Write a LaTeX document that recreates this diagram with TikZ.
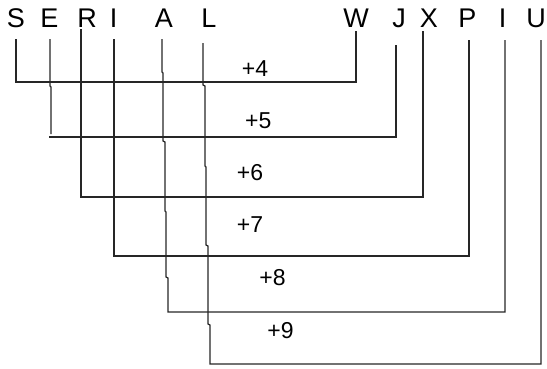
\documentclass[tikz,border=0pt]{standalone}
\usepackage{fontspec}
\setmainfont{Liberation Sans}
\begin{document}
\begin{tikzpicture}[x=1pt,y=-1pt,
  letter/.style={font=\fontsize{27}{27}\selectfont, anchor=base, inner sep=0pt},
  lbl/.style={font=\fontsize{23}{23}\selectfont, anchor=base, inner sep=0pt},
  wire/.style={line width=1.2pt, color=black!85, line join=miter}]
\useasboundingbox (0,0) rectangle (547,368);
% left word
\node[letter] (S) at (16,27.3) {S};
\node[letter] (E) at (49.3,27.3) {E};
\node[letter] (R) at (87,27.3) {R};
\node[letter] (I1) at (113.5,27.3) {I};
\node[letter] (A) at (164,27.3) {A};
\node[letter] (L) at (209,27.3) {L};
% right word
\node[letter] (W) at (356,27.3) {W};
\node[letter] (J) at (399,27.3) {J};
\node[letter] (X) at (429,27.3) {X};
\node[letter] (P) at (467.5,27.3) {P};
\node[letter] (I2) at (502.5,27.3) {I};
\node[letter] (U) at (536,27.3) {U};
% labels
\node[lbl] (l4) at (255,76.7) {+4};
\node[lbl] (l5) at (258.3,128.3) {+5};
\node[lbl] (l6) at (250,180) {+6};
\node[lbl] (l7) at (250,232.7) {+7};
\node[lbl] (l8) at (272.5,285) {+8};
\node[lbl] (l9) at (280.5,338.3) {+9};
% line ends
\coordinate (sS) at (16,39);  \coordinate (tW) at (356,31);
\coordinate (sE) at (50,39);  \coordinate (tJ) at (396,45);
\coordinate (sR) at (81,29);  \coordinate (tX) at (423,31);
\coordinate (sI) at (114,39); \coordinate (tP) at (469,40);
\coordinate (sA) at (162,39); \coordinate (tI) at (505,40);
\coordinate (sL) at (203,43); \coordinate (tU) at (541,40);
% connectors
\draw[wire] (sS) -- (16,82) -- (356,82) -- (tW);
\draw[wire] (sE) -- (50,86) -- (51,87) -- (51,134);
\draw[wire] (49,137) -- (396,137) -- (tJ);
\draw[wire] (sR) -- (81,197) -- (423,197) -- (tX);
\draw[wire] (sI) -- (114,256) -- (469,256) -- (tP);
\draw[wire] (sA) -- (162,72) -- (163,73) -- (163,141) -- (165,142) -- (165,211)
  -- (166,212) -- (166,277) -- (168,278) -- (168,312) -- (505,312) -- (tI);
\draw[wire] (sL) -- (203,85) -- (205,86) -- (205,166) -- (206,167) -- (206,245)
  -- (208,246) -- (208,324) -- (210,325) -- (210,364) -- (541,364) -- (tU);
\end{tikzpicture}
\end{document}
